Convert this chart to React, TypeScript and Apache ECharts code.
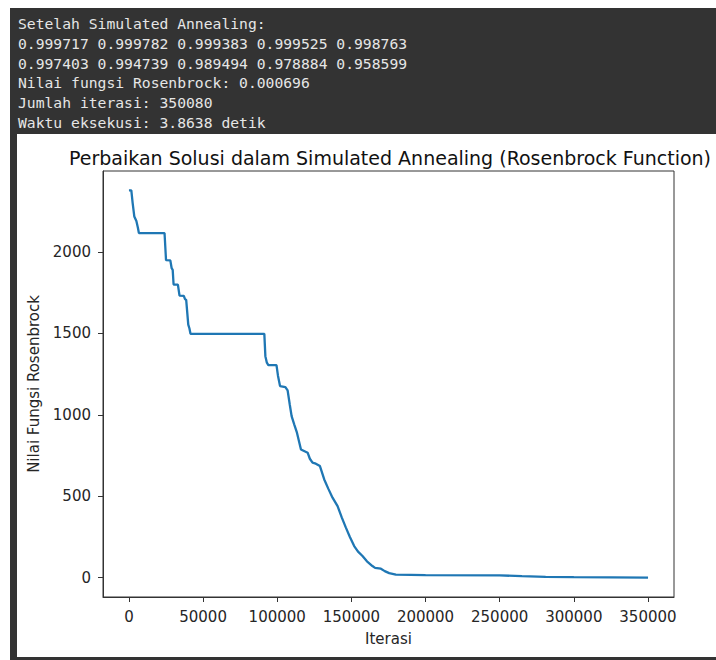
import React, { useEffect, useRef } from "react";
import * as echarts from "echarts";

const headerLines = [
  "Setelah Simulated Annealing:",
  "0.999717 0.999782 0.999383 0.999525 0.998763",
  "0.997403 0.994739 0.989494 0.978884 0.958599",
  "Nilai fungsi Rosenbrock: 0.000696",
  "Jumlah iterasi: 350080",
  "Waktu eksekusi: 3.8638 detik",
];

const chartTitle = "Perbaikan Solusi dalam Simulated Annealing (Rosenbrock Function)";
const xName = "Iterasi";
const yName = "Nilai Fungsi Rosenbrock";

const iterations = [
  0, 1600, 2500, 3600, 5000, 6000, 6700, 24000, 25000, 27900, 28800, 29500, 30100,
  33000, 34100, 37000, 37800, 38600, 40000, 40800, 41500, 91300, 92000, 93000, 94000,
  99500, 100500, 101900, 105500, 107000, 108500, 109700, 111500, 113300, 116000,
  120500, 122000, 123800, 126000, 128800, 131700, 134500, 137300, 140700, 143500,
  146300, 149000, 151900, 154500, 157500, 160500, 164200, 166000, 169900, 172500,
  175500, 180000, 200000, 250000, 265000, 281000, 300000, 350080,
];

const fitness = [
  2378, 2378, 2300, 2218, 2190, 2150, 2116, 2116, 1950, 1948, 1900, 1890, 1800,
  1799, 1732, 1730, 1710, 1705, 1554, 1530, 1497, 1497, 1360, 1320, 1305,
  1305, 1240, 1176, 1170, 1150, 1060, 992, 940, 890, 787,
  767, 730, 706, 700, 685, 603, 545, 491, 439, 370,
  307, 250, 194, 160, 133, 100, 71, 60, 55, 40,
  28, 18, 15, 14, 9, 5, 3, 0.000696,
];

const xTicks = [0, 50000, 100000, 150000, 200000, 250000, 300000, 350000];
const yTicks = [0, 500, 1000, 1500, 2000];

export default function App() {
  const ref = useRef<HTMLDivElement>(null);

  useEffect(() => {
    if (!ref.current) return;
    const chart = echarts.init(ref.current, null, { renderer: "svg" });
    const data = iterations.map((x, i) => [x, fitness[i]]);
    const axisColor = "#333";
    const labelColor = "#262626";
    const font = "DejaVu Sans";
    const plain = (v: number) => String(v);

    chart.setOption({
      animation: false,
      backgroundColor: "#ffffff",
      title: {
        text: chartTitle,
        left: 64,
        top: 143,
        textStyle: { fontFamily: font, fontSize: 19, fontWeight: "normal", color: "#111" },
      },
      grid: {
        left: 103,
        top: 171,
        width: 571,
        height: 426,
        show: true,
        borderColor: axisColor,
        borderWidth: 1,
        containLabel: false,
      },
      xAxis: {
        type: "value",
        min: -17504,
        max: 367584,
        name: xName,
        nameLocation: "middle",
        nameGap: 34,
        nameTextStyle: { fontFamily: font, fontSize: 15, color: labelColor },
        axisLine: { show: true, onZero: false, lineStyle: { color: axisColor, width: 1 } },
        axisTick: { show: true, length: 5, inside: false, customValues: xTicks, lineStyle: { color: axisColor } },
        axisLabel: { customValues: xTicks, formatter: plain, margin: 12, fontFamily: font, fontSize: 15, color: labelColor },
        splitLine: { show: false },
      },
      yAxis: {
        type: "value",
        min: -118.9,
        max: 2496.9,
        name: yName,
        nameLocation: "middle",
        nameGap: 53,
        nameTextStyle: { fontFamily: font, fontSize: 15, color: labelColor },
        axisLine: { show: true, onZero: false, lineStyle: { color: axisColor, width: 1 } },
        axisTick: { show: true, length: 5, inside: false, customValues: yTicks, lineStyle: { color: axisColor } },
        axisLabel: { customValues: yTicks, formatter: plain, margin: 12, fontFamily: font, fontSize: 15, color: labelColor },
        splitLine: { show: false },
      },
      graphic: [
        { type: "rect", shape: { x: 10, y: 8, width: 706, height: 126 }, style: { fill: "#333333" } },
        { type: "rect", shape: { x: 10, y: 134, width: 7, height: 526 }, style: { fill: "#333333" } },
        { type: "rect", shape: { x: 10, y: 657, width: 706, height: 3 }, style: { fill: "#333333" } },
        ...headerLines.map((line, i) => ({
          type: "text",
          x: 18,
          y: 23.5 + i * 19.8,
          style: {
            text: line,
            fill: "#e6e6e6",
            fontFamily: "DejaVu Sans Mono",
            fontSize: 14.7,
            verticalAlign: "middle",
            align: "left",
          },
        })),
      ],
      series: [
        {
          type: "line",
          data,
          showSymbol: false,
          symbol: "none",
          lineStyle: { color: "#1f77b4", width: 2.3 },
          itemStyle: { color: "#1f77b4" },
        },
      ],
    });

    return () => chart.dispose();
  }, []);

  return (
    <div
      ref={ref}
      style={{ position: "fixed", left: 0, top: 0, width: 716, height: 660, background: "#fff" }}
    />
  );
}
